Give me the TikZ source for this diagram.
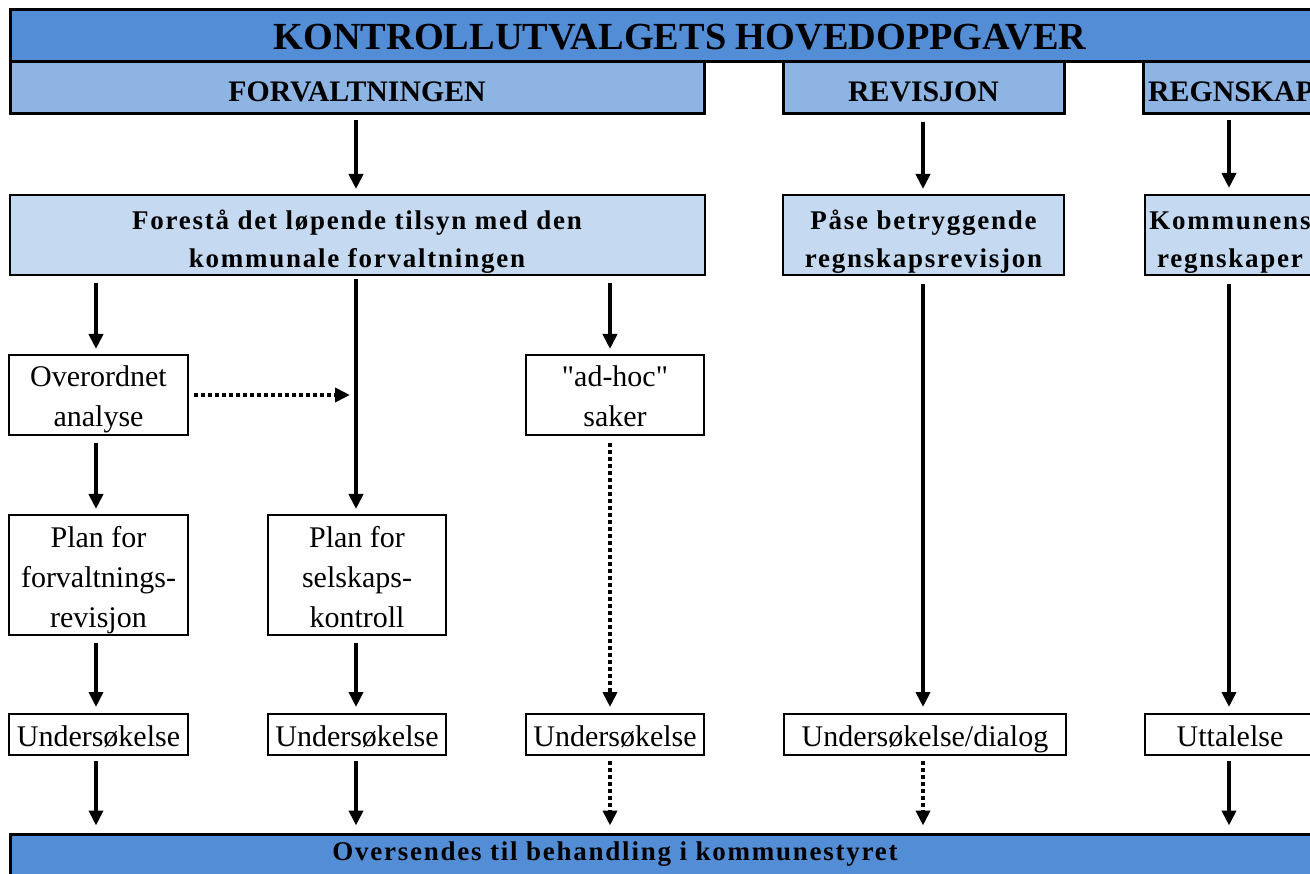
\documentclass[tikz,border=0pt]{standalone}
\usepackage{fontspec}
\setmainfont{Liberation Serif}
\newfontfamily\spaced[LetterSpace=6.5]{Liberation Serif}
\newfontfamily\rawfont[Ligatures=TeXOff]{Liberation Serif}
\usetikzlibrary{arrows.meta,calc}
\definecolor{hdblue}{HTML}{538DD5}
\definecolor{midblue}{HTML}{8DB4E2}
\definecolor{paleblue}{HTML}{C5D9F1}
\newcommand\bs{\vrule width 0pt height 32pt depth 8pt}
\newcommand\tbeg{\vrule width 0pt height 35pt depth 0pt}
\newcommand\tfin{\vrule width 0pt height 0pt depth 7pt}
\newcommand\hstrut{\vrule width 0pt height 40pt depth 12pt}
\begin{document}
\begin{tikzpicture}[x=1pt,y=-1pt,
  hdr/.style={draw=black,line width=3pt,fill=hdblue,inner sep=0pt,minimum height=52,
    font=\fontsize{38.3}{45}\selectfont\bfseries},
  sub/.style={draw=black,line width=3pt,fill=midblue,inner sep=0pt,minimum height=52,
    font=\fontsize{29.8}{35}\selectfont\bfseries},
  task/.style={draw=black,line width=2pt,fill=paleblue,inner sep=0pt,align=center,minimum height=80,
    font=\spaced\fontsize{27}{38}\selectfont\bfseries},
  box/.style={draw=black,line width=2pt,fill=white,inner sep=0pt,align=center,
    font=\fontsize{30}{40}\selectfont},
  arr/.style={line width=4pt,-{Triangle[width=14pt,length=15pt]}},
  dotarr/.style={arr,dash pattern=on 4pt off 3pt},
]
\useasboundingbox (0,0) rectangle (1310,874);
\clip (0,0) rectangle (1310,874);

% columns
\coordinate (c1) at (96,0);
\coordinate (c2) at (356,0);
\coordinate (c3) at (610,0);
\coordinate (c4) at (923,0);
\coordinate (c5) at (1229,0);

% header rows
\node[hdr,minimum width=1340] (title) at (680,36) {\hstrut KONTROLLUTVALGETS HOVEDOPPGAVER};
\node[sub,minimum width=694] (forv) at (357,88) {\hstrut FORVALTNINGEN};
\node[sub,minimum width=281] (rev) at (923.5,88) {\hstrut REVISJON};
\node[sub,minimum width=176] (regn) at (1231,88) {\hstrut REGNSKAP};

% tasks
\node[task,minimum width=695] (forestaa) at (357,235) {\tbeg Forestå det løpende tilsyn med den\\kommunale forvaltningen\tfin};
\node[task,minimum width=281] (pase) at (923.5,235) {\tbeg Påse betryggende\\regnskapsrevisjon\tfin};
\node[task,minimum width=170] (komm) at (1230,235) {\tbeg Kommunens\\regnskaper\tfin};

% row 4
\node[box,minimum width=179,minimum height=80] (overordnet) at (98.5,395) {\bs Overordnet\\\bs analyse};
\node[box,minimum width=178,minimum height=80,font=\rawfont\fontsize{30}{40}\selectfont] (adhoc) at (615,395) {\bs "ad-hoc"\\\bs saker};

% row 5
\node[box,minimum width=179,minimum height=120] (planforv) at (98.5,575) {\bs Plan for\\\bs forvaltnings-\\\bs revisjon};
\node[box,minimum width=178,minimum height=120] (planselsk) at (357,575) {\bs Plan for\\\bs selskaps-\\\bs kontroll};

% row 6
\node[box,minimum width=179,minimum height=41] (u1) at (98.5,734.5) {\bs Undersøkelse};
\node[box,minimum width=178,minimum height=41] (u2) at (357,734.5) {\bs Undersøkelse};
\node[box,minimum width=178,minimum height=41] (u3) at (615,734.5) {\bs Undersøkelse};
\node[box,minimum width=282,minimum height=41] (u4) at (925,734.5) {\bs Undersøkelse/dialog};
\node[box,minimum width=170,minimum height=41] (u5) at (1230,734.5) {\bs Uttalelse};

% bottom
\node[hdr,minimum width=1340,minimum height=72] (bottom) at (680,870) {};
\node[font=\spaced\fontsize{27}{32}\selectfont\bfseries,inner sep=0pt,anchor=base] (bottomtext) at (615,860) {Oversendes til behandling i kommunestyret};

% arrows header -> tasks
\draw[arr,shorten <=5pt,shorten >=5pt] (forv.south -| c2) -- (forestaa.north -| c2);
\draw[arr,shorten <=7pt,shorten >=5pt] (rev.south -| c4) -- (pase.north -| c4);
\draw[arr,shorten <=5pt,shorten >=6pt] (regn.south -| c5) -- (komm.north -| c5);

% forvaltningen branch
\draw[arr,shorten <=7pt,shorten >=5pt] (forestaa.south -| c1) -- (overordnet.north -| c1);
\draw[arr,shorten <=3pt,shorten >=5pt] (forestaa.south -| c2) -- (planselsk.north -| c2);
\draw[arr,shorten <=7pt,shorten >=5pt] (forestaa.south -| c3) -- (adhoc.north -| c3);
\coordinate (hit) at (overordnet.east -| c2);
\draw[dotarr,shorten <=5pt,shorten >=6pt] (overordnet.east) -- (hit);
\draw[arr,shorten <=7pt,shorten >=5pt] (overordnet.south -| c1) -- (planforv.north -| c1);
\draw[dotarr,shorten <=7pt,shorten >=6pt] (adhoc.south -| c3) -- (u3.north -| c3);
\draw[arr,shorten <=7pt,shorten >=6pt] (planforv.south -| c1) -- (u1.north -| c1);
\draw[arr,shorten <=7pt,shorten >=6pt] (planselsk.south -| c2) -- (u2.north -| c2);

% revisjon / regnskap
\draw[arr,shorten <=8pt,shorten >=6pt] (pase.south -| c4) -- (u4.north -| c4);
\draw[arr,shorten <=8pt,shorten >=6pt] (komm.south -| c5) -- (u5.north -| c5);

% to bottom
\draw[arr,shorten <=5pt,shorten >=7pt] (u1.south -| c1) -- (bottom.north -| c1);
\draw[arr,shorten <=5pt,shorten >=7pt] (u2.south -| c2) -- (bottom.north -| c2);
\draw[dotarr,shorten <=5pt,shorten >=7pt] (u3.south -| c3) -- (bottom.north -| c3);
\draw[dotarr,shorten <=5pt,shorten >=7pt] (u4.south -| c4) -- (bottom.north -| c4);
\draw[arr,shorten <=5pt,shorten >=7pt] (u5.south -| c5) -- (bottom.north -| c5);
\end{tikzpicture}
\end{document}
